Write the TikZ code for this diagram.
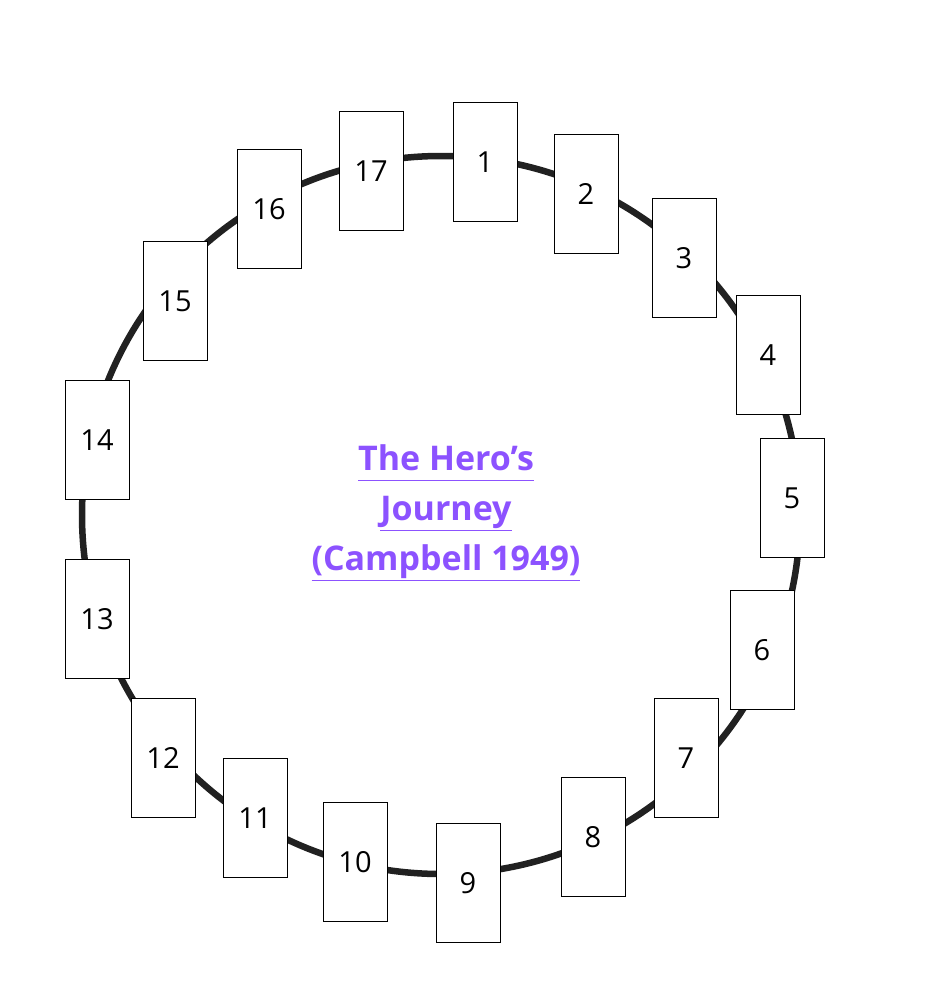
\documentclass[tikz,border=0pt]{standalone}
\usepackage{fontspec}
\setmainfont{Open Sans}
\definecolor{titlepurple}{HTML}{8C52FF}
\newcommand{\titleline}[1]{\underline{\smash{#1}\vphantom{y}}}
\tikzset{
  card/.style={rectangle,draw=black,fill=white,line width=0.6pt,minimum width=64pt,minimum height=119pt,inner sep=0pt,font=\fontsize{29}{32}\selectfont},
  ring/.style={line width=6.5pt,draw=black!87}
}
\begin{document}
\begin{tikzpicture}[x=1pt,y=-1pt]
\useasboundingbox (0,0) rectangle (926,1006);
% \draw[help lines] (0,0) grid (926,1006);
\draw[ring] (441,515) circle (359);
%
\node (c1) [card] at (485,162) {1};
\node (c2) [card] at (586,194) {2};
\node (c3) [card] at (684,258) {3};
\node (c4) [card] at (768,355) {4};
\node (c5) [card] at (792,498) {5};
\node (c6) [card] at (762,650) {6};
\node (c7) [card] at (686,758) {7};
\node (c8) [card] at (593,837) {8};
\node (c9) [card] at (468,883) {9};
\node (c10) [card] at (355,862) {10};
\node (c11) [card] at (255,818) {11};
\node (c12) [card] at (163,758) {12};
\node (c13) [card] at (97,619) {13};
\node (c14) [card] at (97,440) {14};
\node (c15) [card] at (175,301) {15};
\node (c16) [card] at (269,209) {16};
\node (c17) [card] at (371,171) {17};
%
\node (title) [align=center,text=titlepurple,font=\bfseries\fontsize{34}{50}\selectfont] at (446,516)
  {\titleline{The Hero’s}\\ \titleline{Journey}\\ \titleline{(Campbell 1949)}};
\end{tikzpicture}
\end{document}
